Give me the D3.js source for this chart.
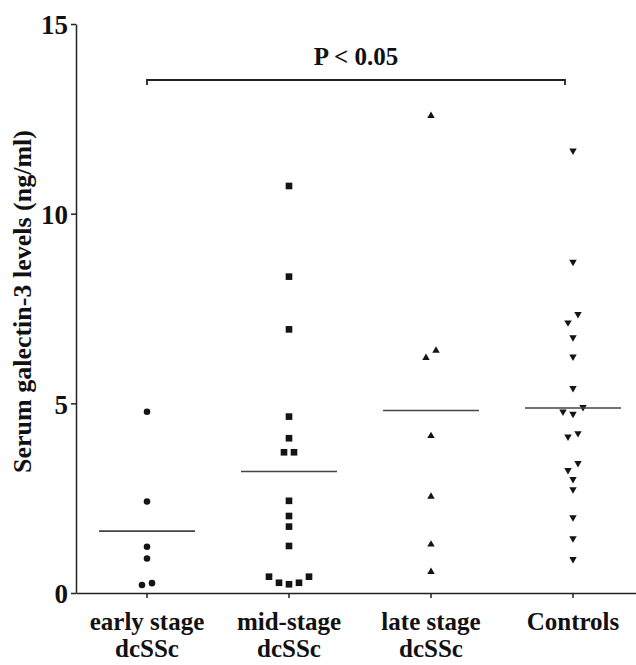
<!DOCTYPE html>
<html>
<head>
<meta charset="utf-8">
<script src="https://cdn.jsdelivr.net/npm/d3@7"></script>
<style>
  body { margin: 0; background: #fff; }
  text { font-family: "Liberation Serif", "Times New Roman", serif; font-weight: bold; fill: #111; }
</style>
</head>
<body>
<div class="chart"></div>
<script>
// groups and their values (ng/ml)
var groups = ["early stage dcSSc", "mid-stage dcSSc", "late stage dcSSc", "Controls"];
var groupLabels = [["early stage", "dcSSc"], ["mid-stage", "dcSSc"], ["late stage", "dcSSc"], ["Controls"]];
var earlyStage = [4.78, 2.41, 1.22, 0.91, 0.26, 0.21];
var midStage = [10.73, 8.34, 6.95, 4.65, 4.08, 3.71, 3.71, 2.43, 2.03, 1.75, 1.24, 0.43, 0.27, 0.23, 0.27, 0.43];
var lateStage = [12.58, 6.39, 6.20, 4.14, 2.54, 1.28, 0.56];
var controls = [11.66, 8.73, 7.35, 7.13, 6.74, 6.23, 5.40, 4.90, 4.78, 4.72, 4.21, 4.12, 3.42, 3.24, 3.00, 2.73, 1.99, 1.44, 0.89];
var yTicks = [0, 5, 10, 15];
var pLabel = "P < 0.05";
var yTitle = "Serum galectin-3 levels (ng/ml)";

var series = [earlyStage, midStage, lateStage, controls];
var shapes = ["circle", "square", "up", "down"];

var svgWidth = 636, svgHeight = 665;

var svg = d3.select(".chart").append("svg")
  .attr("width", svgWidth)
  .attr("height", svgHeight);

var x = d3.scaleBand().domain(groups).range([76, 644]).padding(0);
var y = d3.scaleLinear().domain([0, 15]).range([593, 24]);

// axes
var yAxis = svg.append("g")
  .attr("transform", "translate(76,0)")
  .call(d3.axisLeft(y).tickValues(yTicks).tickSize(5).tickPadding(3).tickSizeOuter(0));
yAxis.selectAll("text").style("font-size", "27px").attr("dy", "0.36em");

var xAxis = svg.append("g")
  .attr("transform", "translate(0,593)")
  .call(d3.axisBottom(x).tickSize(5).tickSizeOuter(0).tickFormat(""));

svg.selectAll(".domain, .tick line").attr("stroke", "#222").attr("stroke-width", 1.5);

// two-line category labels
groups.forEach(function (g, i) {
  var t = svg.append("text")
    .attr("x", x(g) + x.bandwidth() / 2)
    .attr("y", 630)
    .attr("text-anchor", "middle")
    .style("font-size", "25px");
  groupLabels[i].forEach(function (line, j) {
    t.append("tspan")
      .attr("x", x(g) + x.bandwidth() / 2)
      .attr("dy", j === 0 ? 0 : 27)
      .text(line);
  });
});

// y axis title
svg.append("text")
  .attr("transform", "translate(31," + (y(7.5) - 7) + ") rotate(-90)")
  .attr("text-anchor", "middle")
  .style("font-size", "26px")
  .text(yTitle);

// spread points that would overlap, like a scatter dot plot
function spread(values) {
  var pts = values.map(function (v) { return { v: v }; })
    .sort(function (a, b) { return a.v - b.v; });
  var clusters = [], cur = [];
  pts.forEach(function (p, i) {
    if (i > 0 && Math.abs(y(pts[i - 1].v) - y(p.v)) >= 9) {
      clusters.push(cur); cur = [];
    }
    cur.push(p);
  });
  if (cur.length) clusters.push(cur);
  var step = 10;
  clusters.forEach(function (c) {
    var n = c.length;
    c.forEach(function (p, k) {
      if (n % 2 === 1) {
        var r = Math.ceil(k / 2);
        p.dx = (k % 2 === 1 ? -1 : 1) * r * step;
      } else {
        var r2 = Math.floor(k / 2) + 0.5;
        p.dx = (k % 2 === 0 ? -1 : 1) * r2 * step;
      }
    });
  });
  return pts;
}

var symbolFor = {
  circle: d3.symbol().type(d3.symbolCircle).size(34),
  square: d3.symbol().type(d3.symbolSquare).size(44),
  up: d3.symbol().type(d3.symbolTriangle).size(24),
  down: d3.symbol().type(d3.symbolTriangle).size(24)
};

series.forEach(function (vals, i) {
  var cx = x(groups[i]) + x.bandwidth() / 2;
  var pts = spread(vals);

  svg.append("g").selectAll("path")
    .data(pts)
    .enter()
    .append("path")
    .attr("d", symbolFor[shapes[i]]())
    .attr("transform", function (d) {
      return "translate(" + (cx + d.dx) + "," + y(d.v) + ")" + (shapes[i] === "down" ? " rotate(180)" : "");
    })
    .attr("fill", "#141414");

  // mean line
  var m = d3.mean(vals);
  svg.append("line")
    .attr("x1", cx - 48)
    .attr("x2", cx + 48)
    .attr("y1", y(m))
    .attr("y2", y(m))
    .attr("stroke", "#444")
    .attr("stroke-width", 1.6);
});

// significance bracket
var bx1 = x(groups[0]) + x.bandwidth() / 2;
var bx2 = x(groups[3]) + x.bandwidth() / 2 - 8;
var by = 80;
svg.append("path")
  .attr("d", "M" + bx1 + "," + (by + 5) + "V" + by + "H" + bx2 + "V" + (by + 5))
  .attr("fill", "none")
  .attr("stroke", "#222")
  .attr("stroke-width", 1.8);

svg.append("text")
  .attr("x", (bx1 + bx2) / 2)
  .attr("y", 65)
  .attr("text-anchor", "middle")
  .style("font-size", "25px")
  .text(pLabel);
</script>
</body>
</html>
